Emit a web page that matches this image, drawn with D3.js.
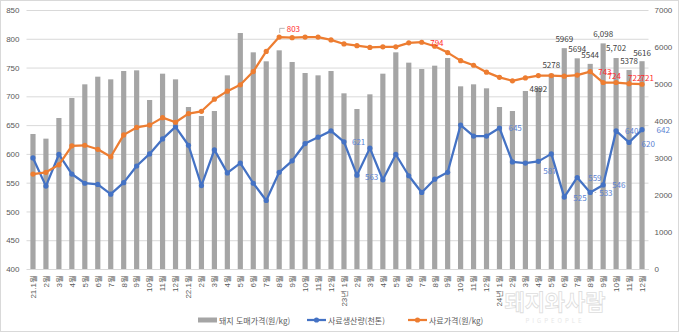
<!DOCTYPE html>
<html lang="ko">
<head>
<meta charset="utf-8">
<script src="https://cdn.jsdelivr.net/npm/d3@7"></script>
<style>
  html, body { margin: 0; padding: 0; background: #fff; }
  svg { display: block; font-family: "Noto Sans CJK KR", "Noto Sans", sans-serif; }
</style>
</head>
<body>
<svg id="chart" width="680" height="333"></svg>
<script>
// Month labels, 2021.1 – 2024.12
const months = [
  "21.1월","2월","3월","4월","5월","6월","7월","8월","9월","10월","11월","12월",
  "22.1월","2월","3월","4월","5월","6월","7월","8월","9월","10월","11월","12월",
  "23년 1월","2월","3월","4월","5월","6월","7월","8월","9월","10월","11월","12월",
  "24년 1월","2월","3월","4월","5월","6월","7월","8월","9월","10월","11월","12월"
];

// 돼지 도매가격 (원/kg) — right axis
const hogPrice = [
  3649, 3523, 4081, 4622, 4991, 5198, 5126, 5351, 5369, 4568, 5279, 5126,
  4378, 4135, 4270, 5234, 6378, 5856, 5613, 5910, 5595, 5297, 5234, 5351,
  4748, 4324, 4721, 5279, 5856, 5577, 5405, 5495, 5703, 4937, 4991, 4883,
  4378, 4270, 4811, 4892, 5278, 5969, 5694, 5544, 6098, 5702, 5378, 5616
];

// 사료생산량 (천톤) — left axis
const feedOutput = [
  593, 544, 599, 565, 549, 547, 530, 550, 579, 600, 626, 647,
  615, 545, 607, 567, 584, 549, 519, 568, 588, 618, 629, 640,
  621, 563, 610, 555, 599, 562, 533, 556, 568, 650, 631, 631,
  645, 586, 584, 587, 600, 525, 559, 533, 546, 640, 620, 642
];

// 사료가격 (원/kg) — left axis
const feedPrice = [
  565, 568, 581, 614, 615, 608, 595, 633, 646, 650, 663, 655,
  670, 674, 695, 709, 720, 743, 778, 803, 802, 803, 803, 798,
  791, 788, 785, 786, 786, 793, 794, 787, 776, 762, 754, 742,
  733, 727, 732, 736, 736, 735, 737, 743, 724, 724, 722, 721
];

const leftTicks = [400, 450, 500, 550, 600, 650, 700, 750, 800, 850];
const rightTicks = [0, 1000, 2000, 3000, 4000, 5000, 6000, 7000];

const seriesNames = ["돼지 도매가격(원/kg)", "사료생산량(천톤)", "사료가격(원/kg)"];

// Which points carry value labels, and where the label sits relative to its mark
const hogLabelIdx = [39, 40, 41, 42, 43, 44, 45, 46, 47];
const hogLabelComma = [44, 45];
const hogLabelDy = { 39: 4, 40: -6, 41: -6, 42: -6, 43: -6, 44: -6.5, 45: -7, 46: -6, 47: -5.5 };
const outputLabels = [
  { i: 24, dx: 8, dy: 0 }, { i: 25, dx: 8, dy: 1 }, { i: 36, dx: 9, dy: 0 },
  { i: 39, dx: 5, dy: 9 }, { i: 41, dx: 9, dy: 0 }, { i: 42, dx: 11, dy: 0 },
  { i: 43, dx: 8, dy: 0, lead: true }, { i: 44, dx: 9, dy: 0 }, { i: 45, dx: 9, dy: 0 },
  { i: 46, dx: 12.5, dy: 1 }, { i: 47, dx: 14.5, dy: 0 }
];
const priceLabels = [
  { i: 19, dx: 7.5, dy: -8.7, lead: true }, { i: 30, dx: 8.5, dy: 0 }, { i: 43, dx: 8, dy: -0.5 },
  { i: 44, dx: 4.5, dy: -7 }, { i: 46, dx: -1, dy: -6 }, { i: 47, dx: -1.5, dy: -6.5 }
];

const C = {
  bar: "#a5a5a5", blue: "#4472c4", orange: "#ed7d31",
  grid: "#d9d9d9", tick: "#595959", barLabel: "#404040",
  blueLabel: "#5b82d2", redLabel: "#ff2a2a"
};

const svg = d3.select("#chart");
const plot = { left: 26.5, right: 648.5, top: 10, bottom: 269 };

const x = d3.scaleBand()
  .domain(d3.range(months.length))
  .range([plot.left, plot.right])
  .paddingInner(0.6)
  .paddingOuter(0.3);
const cx = i => x(i) + x.bandwidth() / 2;

const yL = d3.scaleLinear().domain([400, 850]).range([plot.bottom, plot.top]);
const yR = d3.scaleLinear().domain([0, 7000]).range([plot.bottom, plot.top]);

// chart frame
svg.append("rect")
  .attr("x", 0.5).attr("y", 0.5).attr("width", 678).attr("height", 331)
  .attr("fill", "#fff").attr("stroke", "#d9d9d9");

// horizontal gridlines
svg.append("g")
  .attr("transform", `translate(${plot.left},0)`)
  .call(d3.axisLeft(yL).tickValues(leftTicks).tickSize(-(plot.right - plot.left)).tickFormat(""))
  .call(g => g.select(".domain").remove())
  .call(g => g.selectAll("line").attr("stroke", C.grid).attr("stroke-width", 1));

// left axis labels
svg.append("g")
  .attr("transform", `translate(${plot.left - 6},0)`)
  .call(d3.axisLeft(yL).tickValues(leftTicks).tickSize(0).tickPadding(1).tickFormat(d3.format("d")))
  .call(g => g.select(".domain").remove())
  .call(g => g.selectAll("text").attr("fill", C.tick).attr("font-size", 8).attr("font-family", null));

// right axis labels
svg.append("g")
  .attr("transform", `translate(${plot.right + 3},0)`)
  .call(d3.axisRight(yR).tickValues(rightTicks).tickSize(0).tickPadding(3).tickFormat(d3.format("d")))
  .call(g => g.select(".domain").remove())
  .call(g => g.selectAll("text").attr("fill", C.tick).attr("font-size", 8).attr("font-family", null));

// bars
svg.append("g").selectAll("rect")
  .data(hogPrice)
  .join("rect")
  .attr("x", (d, i) => x(i))
  .attr("width", x.bandwidth())
  .attr("y", d => yR(d))
  .attr("height", d => yR(0) - yR(d))
  .attr("fill", C.bar);

// bottom axis with rotated month labels
svg.append("g")
  .attr("transform", `translate(0,${plot.bottom})`)
  .call(d3.axisBottom(x).tickSize(0).tickFormat(i => months[i]))
  .call(g => g.select(".domain").attr("stroke", C.grid))
  .call(g => g.selectAll("text")
    .attr("fill", C.tick).attr("font-size", 8).attr("font-family", null)
    .attr("transform", "rotate(-90)")
    .attr("text-anchor", "end")
    .attr("dy", "0.35em")
    .attr("x", -6).attr("y", 0));

// lines
function drawLine(values, color) {
  const line = d3.line().x((d, i) => cx(i)).y(d => yL(d));
  const g = svg.append("g");
  g.append("path").datum(values)
    .attr("d", line).attr("fill", "none")
    .attr("stroke", color).attr("stroke-width", 2.25)
    .attr("stroke-linejoin", "round").attr("stroke-linecap", "round");
  g.selectAll("circle").data(values).join("circle")
    .attr("cx", (d, i) => cx(i)).attr("cy", d => yL(d))
    .attr("r", 2.6).attr("fill", color);
}
drawLine(feedOutput, C.blue);
drawLine(feedPrice, C.orange);

// bar value labels
svg.append("g").selectAll("text")
  .data(hogLabelIdx)
  .join("text")
  .attr("x", i => cx(i))
  .attr("y", i => yR(hogPrice[i]) + hogLabelDy[i])
  .attr("text-anchor", "middle")
  .attr("font-size", 8)
  .attr("fill", C.barLabel)
  .text(i => hogLabelComma.includes(i) ? d3.format(",")(hogPrice[i]) : String(hogPrice[i]));

// line value labels
function drawLabels(specs, values, color) {
  const g = svg.append("g");
  specs.forEach(s => {
    const px = cx(s.i), py = yL(values[s.i]);
    if (s.lead) {
      const lx = px + s.dx - 2, ly = py + s.dy;
      if (s.dy < -3) {
        g.append("path")
          .attr("d", `M${px + 0.5},${py - 4}V${ly}H${lx}`)
          .attr("fill", "none").attr("stroke", "#a6a6a6").attr("stroke-width", 0.8);
      } else {
        g.append("line")
          .attr("x1", px + 4.5).attr("x2", lx).attr("y1", ly).attr("y2", ly)
          .attr("stroke", "#a6a6a6").attr("stroke-width", 0.8);
      }
    }
    g.append("text")
      .attr("x", px + s.dx + (s.lead && s.dy >= -3 ? 1 : 0))
      .attr("y", py + s.dy)
      .attr("dominant-baseline", "central")
      .attr("font-size", 8)
      .attr("fill", color)
      .text(values[s.i]);
  });
}
drawLabels(outputLabels, feedOutput, C.blueLabel);
drawLabels(priceLabels, feedPrice, C.redLabel);

// legend
const legend = svg.append("g").attr("font-size", 8).attr("fill", C.tick);
const ly = 320;
legend.append("rect").attr("x", 198).attr("y", ly - 2.5).attr("width", 19).attr("height", 5).attr("fill", C.bar);
legend.append("text").attr("x", 219).attr("y", ly).attr("dominant-baseline", "central").attr("fill", C.tick).text(seriesNames[0]);
[[307, C.blue, 1], [408, C.orange, 2]].forEach(([lx, color, k]) => {
  legend.append("line").attr("x1", lx).attr("x2", lx + 19).attr("y1", ly).attr("y2", ly)
    .attr("stroke", color).attr("stroke-width", 2.25);
  legend.append("circle").attr("cx", lx + 9.5).attr("cy", ly).attr("r", 2.6).attr("fill", color);
  legend.append("text").attr("x", lx + 21).attr("y", ly).attr("dominant-baseline", "central")
    .attr("fill", C.tick).text(seriesNames[k]);
});

// publisher mark
const mark = svg.append("g").attr("opacity", 0.5);
mark.append("text").attr("x", 555).attr("y", 310).attr("text-anchor", "middle")
  .attr("font-size", 22).attr("font-weight", "bold").attr("fill", "#fff")
  .attr("stroke", "#bdbdbd").attr("stroke-width", 0.8).text("돼지와사람");
mark.append("text").attr("x", 555).attr("y", 323).attr("text-anchor", "middle")
  .attr("font-size", 6).attr("letter-spacing", 3).attr("fill", "#d0d0d0").text("PIGPEOPLE");
</script>
</body>
</html>
